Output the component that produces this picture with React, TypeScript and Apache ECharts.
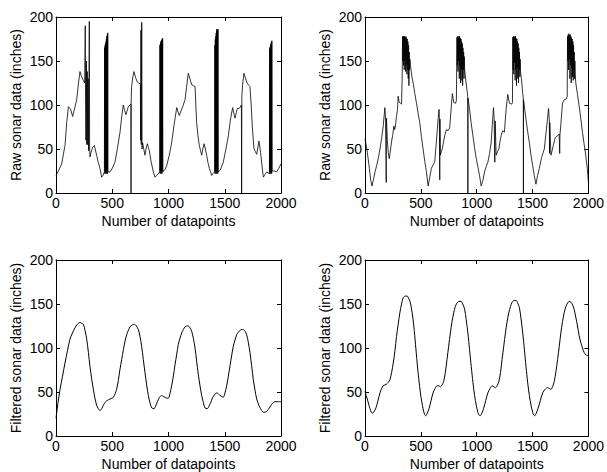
import React, { useEffect, useRef } from "react";
import * as echarts from "echarts";

// ---- data ----
const xTicks = [0, 500, 1000, 1500, 2000];
const yTicks = [0, 50, 100, 150, 200];

const rawSonarA: number[][] = [
  [0,20],[25,26],[50,33],[80,54],[95,80],[110,98],[130,95],[148,87],[169,98],[184,106],[200,125],[213,138],[228,132],[243,128],[255,125],
  [260,190],[262,124],[266,60],[270,150],[274,55],[278,138],[282,55],[286,130],[290,48],[296,195],[299,50],[302,41],
  [315,48],[326,52],[341,54],[361,43],[375,35],[391,28],[406,18],[418,20],[430,24],
  [432,165],[434,22],[436,168],[438,25],[440,170],[442,22],[444,172],[446,25],[448,175],[450,22],[452,178],[454,25],[456,180],[458,22],[460,182],[462,24],
  [480,24],[500,28],[524,35],[545,50],[569,69],[585,88],[598,100],[610,94],[622,89],[633,94],[643,98],[655,100],[666,101],[667,0],[668,104],[672,121],[683,132],[693,138],[708,131],[723,126],[735,125],[750,124],
  [752,60],[755,185],[758,55],[762,194],[765,50],[770,57],[780,50],[791,43],[800,50],[812,56],[820,52],[830,48],[845,36],[865,24],[880,18],[895,20],[922,24],
  [924,168],[926,22],[928,170],[930,25],[932,172],[934,22],[936,173],[938,25],[940,174],[942,22],[944,175],[946,25],[948,176],[950,24],
  [970,27],[984,31],[1005,42],[1028,57],[1050,78],[1073,97],[1085,92],[1096,88],[1110,93],[1126,98],[1147,106],[1160,120],[1176,136],[1190,130],[1206,123],[1220,122],[1236,121],[1243,100],[1250,80],[1262,65],[1274,54],[1285,48],[1295,43],[1305,50],[1316,56],[1328,50],[1339,43],[1350,35],[1363,28],[1384,20],[1395,22],[1410,24],
  [1412,168],[1414,22],[1416,175],[1418,25],[1420,178],[1422,22],[1424,182],[1426,25],[1428,186],[1430,22],[1432,184],[1434,25],[1436,186],[1438,22],[1440,186],[1442,24],
  [1460,26],[1487,35],[1510,50],[1532,65],[1550,83],[1570,97],[1580,91],[1591,85],[1602,91],[1612,96],[1625,96],[1636,97],[1648,100],[1650,0],[1652,110],[1660,125],[1671,136],[1683,131],[1695,126],[1710,123],[1724,121],[1735,100],[1745,75],[1760,50],[1772,47],[1784,44],[1795,52],[1804,59],[1812,52],[1819,46],[1830,32],[1843,18],[1858,21],[1873,24],[1885,23],[1897,22],
  [1899,164],[1901,22],[1903,166],[1905,25],[1907,168],[1909,22],[1911,170],[1913,25],[1915,172],[1917,22],[1919,173],[1921,25],
  [1940,25],[1961,24],[1980,28],[2000,33]
];

const rawSonarB: number[][] = [
  [0,61],[10,55],[21,46],[39,28],[51,15],[62,8],[74,14],[90,24],[104,31],[120,40],[134,50],[150,63],[163,76],[178,97],[184,84],[188,84],[190,12],[192,85],[200,60],[208,46],[217,39],[229,50],[240,60],[247,65],[259,76],[265,72],[270,74],[276,80],[282,87],[291,95],[297,110],[306,103],[318,102],[327,101],[333,132],
  [336,178],[339,150],[342,178],[345,145],[348,178],[351,140],[354,178],[357,150],[360,177],[363,138],[366,178],[369,145],[372,176],[375,135],[378,175],[381,140],[384,172],[387,130],[390,168],[393,122],[396,160],[399,140],[402,152],
  [407,145],[420,132],[431,125],[446,113],[461,102],[475,91],[490,80],[505,64],[520,50],[535,36],[550,24],[565,8],[580,18],[594,28],[610,32],[624,35],[640,60],[655,85],[663,95],[666,84],[669,15],[671,84],[675,43],[683,47],[692,50],[703,58],[713,65],[728,72],[743,71],[758,74],[773,99],[782,113],[794,103],[811,102],[818,105],[823,177],
  [826,145],[829,178],[832,138],[835,178],[838,150],[841,177],[844,130],[847,178],[850,145],[853,176],[856,125],[859,175],[862,140],[865,172],[868,128],[871,170],[874,122],[877,165],[880,140],[883,160],[886,130],[889,155],[892,140],
  [905,125],[915,115],[920,110],[921,0],[922,108],[936,95],[950,80],[966,65],[980,52],[996,39],[1010,30],[1025,20],[1040,8],[1055,14],[1070,24],[1085,30],[1100,35],[1115,45],[1129,57],[1140,78],[1150,97],[1156,85],[1159,85],[1162,35],[1165,82],[1174,43],[1186,47],[1198,50],[1208,58],[1218,65],[1233,71],[1248,69],[1263,95],[1278,112],[1293,102],[1314,101],[1320,103],[1323,177],
  [1326,140],[1329,178],[1332,135],[1335,178],[1338,148],[1341,177],[1344,128],[1347,178],[1350,140],[1353,176],[1356,122],[1359,175],[1362,142],[1365,172],[1368,130],[1371,170],[1374,125],[1377,165],[1380,140],[1383,160],[1386,132],[1389,152],[1392,138],
  [1400,130],[1412,113],[1417,108],[1418,0],[1419,106],[1441,84],[1456,70],[1471,57],[1486,43],[1501,31],[1515,20],[1530,10],[1545,20],[1560,28],[1580,40],[1605,50],[1620,68],[1634,85],[1643,96],[1650,82],[1652,45],[1654,80],[1664,43],[1675,48],[1685,54],[1703,63],[1724,65],[1738,67],[1743,45],[1745,66],[1753,78],[1768,102],[1783,106],[1804,107],[1810,110],[1813,178],
  [1816,150],[1819,180],[1822,140],[1825,181],[1828,152],[1831,179],[1834,130],[1837,180],[1840,145],[1843,178],[1846,125],[1849,176],[1852,142],[1855,175],[1858,132],[1861,172],[1864,128],[1867,168],[1870,140],[1873,160],[1876,130],[1879,150],[1882,135],
  [1887,125],[1902,112],[1917,99],[1932,84],[1947,69],[1961,56],[1976,43],[1990,28],[2000,12]
];

const filteredSonarA: number[][] = [
  [0,20],[18,38],[36,53],[58,68],[80,83],[102,97],[124,110],[146,117],[169,123],[190,127],[213,129],[228,128],[243,127],[258,120],[273,110],[288,95],[302,79],[317,65],[332,53],[346,43],[361,35],[376,31],[391,29],[406,31],[421,35],[436,38],[450,40],[465,41],[480,42],[495,43],[510,44],[525,48],[539,53],[554,63],[569,76],[584,87],[599,98],[614,108],[628,115],[643,120],[658,124],[677,126],[696,127],[714,125],[732,121],[747,113],[761,102],[776,87],[791,72],[806,58],[821,46],[835,38],[850,32],[871,31],[886,34],[901,39],[920,44],[939,46],[954,45],[969,44],[984,43],[999,43],[1014,49],[1028,57],[1043,68],[1058,81],[1073,93],[1087,104],[1102,111],[1117,117],[1132,121],[1147,124],[1161,125],[1176,125],[1191,123],[1206,119],[1221,111],[1236,100],[1250,85],[1265,70],[1280,57],[1295,46],[1310,38],[1324,32],[1345,31],[1360,34],[1375,38],[1390,43],[1404,46],[1416,48],[1428,49],[1443,48],[1458,46],[1473,45],[1487,44],[1502,49],[1517,57],[1532,68],[1547,80],[1561,91],[1576,102],[1591,109],[1606,115],[1621,118],[1636,120],[1650,121],[1665,121],[1680,119],[1695,115],[1710,106],[1724,95],[1739,80],[1754,64],[1769,52],[1784,42],[1806,34],[1828,29],[1843,27],[1858,27],[1872,28],[1887,30],[1902,33],[1917,36],[1932,38],[1947,39],[1970,39],[2000,39]
];

const filteredSonarB: number[][] = [
  [0,51],[10,46],[21,42],[33,36],[45,31],[56,27],[68,26],[83,28],[98,32],[116,40],[134,49],[148,54],[163,57],[178,58],[193,59],[208,61],[223,64],[238,72],[253,83],[268,97],[282,113],[297,127],[312,140],[327,150],[342,157],[360,159],[377,159],[392,156],[407,151],[422,140],[437,125],[452,104],[467,83],[482,64],[496,49],[508,39],[520,31],[532,25],[544,23],[558,26],[573,31],[591,40],[609,49],[627,54],[645,57],[660,57],[675,56],[690,58],[704,62],[719,72],[734,87],[749,102],[764,117],[779,130],[794,140],[808,147],[823,151],[841,153],[859,153],[875,150],[892,144],[906,132],[921,117],[936,98],[951,79],[966,61],[981,46],[996,35],[1010,27],[1020,24],[1031,23],[1046,26],[1061,31],[1080,40],[1100,49],[1119,54],[1138,57],[1153,56],[1168,55],[1183,57],[1198,62],[1213,72],[1227,87],[1242,102],[1257,117],[1272,130],[1287,140],[1302,147],[1317,152],[1335,154],[1352,154],[1367,151],[1382,146],[1397,133],[1412,117],[1427,98],[1441,79],[1456,61],[1471,46],[1486,35],[1501,27],[1510,24],[1519,23],[1533,26],[1548,31],[1569,40],[1590,49],[1612,53],[1634,55],[1649,54],[1664,53],[1679,56],[1694,62],[1709,73],[1724,87],[1739,102],[1753,117],[1768,130],[1783,140],[1798,147],[1813,151],[1828,153],[1843,152],[1858,149],[1872,144],[1887,135],[1902,125],[1917,114],[1932,106],[1947,100],[1961,95],[1980,92],[2000,91]
];

const xAxisTitle = "Number of datapoints";
const rawTitle = "Raw sonar data (inches)";
const filteredTitle = "Filtered sonar data (inches)";

const FONT = "'Liberation Sans', Arial, Helvetica, sans-serif";

export default function App() {
  const ref = useRef<HTMLDivElement>(null);

  useEffect(() => {
    if (!ref.current) return;
    const chart = echarts.init(ref.current, null, { renderer: "svg" });

    const panels = [
      { data: rawSonarA, title: rawTitle, left: 56, top: 17, height: 176, smooth: false, width: 0.8 },
      { data: rawSonarB, title: rawTitle, left: 365, top: 17, height: 176, smooth: false, width: 0.8 },
      { data: filteredSonarA, title: filteredTitle, left: 56, top: 260, height: 177, smooth: true, width: 1 },
      { data: filteredSonarB, title: filteredTitle, left: 365, top: 260, height: 177, smooth: true, width: 1 },
    ];

    const lineStyle = { color: "#000", width: 1 };
    const tick = { show: true, inside: true, length: 4, lineStyle: { color: "#000", width: 1 } };
    const labelStyle = { color: "#000", fontSize: 14, fontFamily: FONT };
    const fmt = (v: number) => String(v);

    const grid: any[] = [];
    const xAxis: any[] = [];
    const yAxis: any[] = [];
    const series: any[] = [];

    panels.forEach((p, i) => {
      grid.push({ left: p.left, top: p.top, width: 225, height: p.height, show: false, containLabel: false });
      const xBase = {
        type: "value", gridIndex: i, min: xTicks[0], max: xTicks[xTicks.length - 1], interval: xTicks[1] - xTicks[0],
        splitLine: { show: false }, axisTick: tick,
        axisLine: { show: true, onZero: false, lineStyle },
      };
      xAxis.push({
        ...xBase, position: "bottom",
        axisLabel: { ...labelStyle, margin: 3, showMinLabel: true, showMaxLabel: true, formatter: fmt },
        name: xAxisTitle, nameLocation: "middle", nameGap: 21,
        nameTextStyle: { ...labelStyle },
      });
      xAxis.push({ ...xBase, position: "top", axisLabel: { show: false } });
      const yBase = {
        type: "value", gridIndex: i, min: yTicks[0], max: yTicks[yTicks.length - 1], interval: yTicks[1] - yTicks[0],
        splitLine: { show: false }, axisTick: tick,
        axisLine: { show: true, onZero: false, lineStyle },
      };
      yAxis.push({
        ...yBase, position: "left",
        axisLabel: { ...labelStyle, margin: 3, showMinLabel: true, showMaxLabel: true, formatter: fmt },
        name: p.title, nameLocation: "middle", nameGap: 33,
        nameTextStyle: { ...labelStyle },
      });
      yAxis.push({ ...yBase, position: "right", axisLabel: { show: false } });
      series.push({
        type: "line", xAxisIndex: i * 2, yAxisIndex: i * 2, data: p.data,
        symbol: "none", showSymbol: false, smooth: p.smooth ? 0.3 : false,
        lineStyle: { color: "#000", width: p.width }, clip: true, silent: true,
      });
    });

    chart.setOption({
      animation: false,
      backgroundColor: "#fff",
      grid, xAxis, yAxis, series,
    });

    return () => chart.dispose();
  }, []);

  return (
    <div
      ref={ref}
      style={{ position: "absolute", left: 0, top: 0, width: 607, height: 472 }}
    />
  );
}
